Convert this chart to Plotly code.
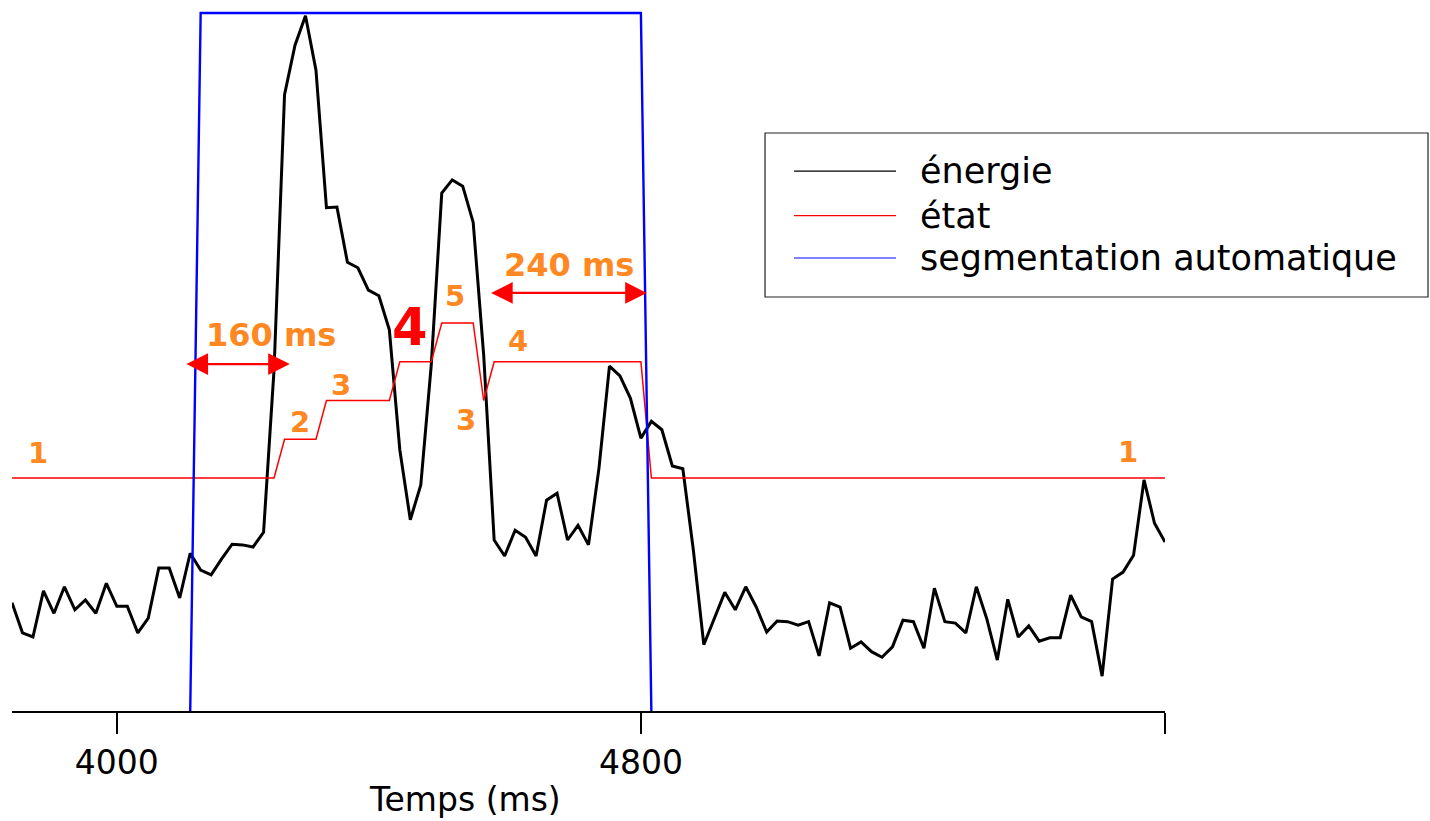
import plotly.graph_objects as go

# Frame times (ms): one analysis frame every 16 ms
frame_start = 3840
frame_step = 16

# Short-term energy per frame (arbitrary units)
energie = [
    15.5, 11.2, 10.6, 17.2, 14.0, 17.8, 14.5, 15.9, 14.0, 18.3,
    15.0, 15.0, 11.2, 13.3, 20.5, 20.5, 16.2, 22.6, 20.2, 19.5,
    21.8, 23.9, 23.8, 23.5, 25.6, 48.9, 88.3, 95.4, 99.6, 91.8,
    72.1, 72.2, 64.3, 63.5, 60.3, 59.5, 54.6, 37.4, 27.4, 32.4,
    49.6, 74.2, 76.1, 75.2, 70.0, 51.0, 24.5, 22.2, 25.9, 24.9,
    22.2, 30.2, 31.2, 24.5, 26.6, 23.8, 34.8, 49.4, 48.0, 44.8,
    39.1, 41.5, 40.3, 35.1, 34.7, 23.1, 9.5, 13.3, 17.0, 14.5,
    17.8, 14.9, 11.3, 12.9, 12.8, 12.3, 12.8, 7.9, 15.5, 14.9,
    9.0, 9.9, 8.5, 7.7, 9.2, 13.0, 12.8, 9.0, 17.6, 12.8,
    12.6, 11.2, 17.8, 13.2, 7.3, 16.0, 10.6, 12.2, 10.0, 10.5,
    10.5, 16.6, 13.5, 12.8, 5.0, 18.9, 19.9, 22.3, 33.1, 26.9,
    24.2,
]

# Decoded HMM state per frame
etat = (
    [1] * 26 + [2] * 4 + [3] * 7 + [4] * 4 + [5] * 4 + [3] * 1
    + [4] * 15 + [1] * 50
)

# Automatic segmentation (1 = inside the detected segment)
segmentation = [0] * 18 + [1] * 43 + [0] * 50

temps = [frame_start + frame_step * k for k in range(len(energie))]

# Tick marks of the time axis
tick_vals = [4000, 4800, 5600]
tick_text = ["4000", "4800", ""]

# State labels: (text, time ms, energy-scale height)
state_labels = [
    ("1", 3880, 37.0),
    ("2", 4280, 41.4),
    ("3", 4342, 46.7),
    ("5", 4516, 59.5),
    ("4", 4612, 53.0),
    ("3", 4533, 41.7),
    ("1", 5544, 37.1),
]
big_label = ("4", 4447, 55.0)

# Duration arrows: (duration ms, centre time ms, height)
durations = [160, 240]
duration_centres = [4184, 4689]
duration_heights = [49.7, 59.9]
duration_label_pos = [(4235, 53.9), (4690, 63.9)]

ORANGE = "#FF8822"
RED = "#FF0000"
BLUE = "#0000FF"
FONT = "DejaVu Sans"

fig = go.Figure()

fig.add_trace(go.Scatter(
    x=temps, y=etat, mode="lines", name="état", yaxis="y2",
    line=dict(color=RED, width=1.5), showlegend=False,
))
fig.add_trace(go.Scatter(
    x=temps, y=energie, mode="lines", name="énergie",
    line=dict(color="black", width=3), showlegend=False,
))
fig.add_trace(go.Scatter(
    x=temps, y=segmentation, mode="lines", name="segmentation automatique",
    yaxis="y3", line=dict(color=BLUE, width=2.4), showlegend=False,
))

annotations = []
for txt, t, h in state_labels:
    annotations.append(dict(
        x=t, y=h, xref="x", yref="y", text=txt, showarrow=False,
        font=dict(family=FONT, size=29, color=ORANGE, weight="bold"),
    ))
annotations.append(dict(
    x=big_label[1], y=big_label[2], xref="x", yref="y", text=big_label[0],
    showarrow=False, font=dict(family=FONT, size=51, color=RED, weight="bold"),
))

for d, c, h, (lx, ly) in zip(durations, duration_centres, duration_heights,
                             duration_label_pos):
    annotations.append(dict(
        x=c + d / 2, y=h, ax=c - d / 2, ay=h, xref="x", yref="y",
        axref="x", ayref="y", text="", showarrow=True,
        arrowhead=2, arrowside="end+start", arrowsize=1.8, arrowwidth=2.4,
        arrowcolor=RED, standoff=0, startstandoff=0,
    ))
    annotations.append(dict(
        x=lx, y=ly, xref="x", yref="y", text=f"{d} ms", showarrow=False,
        font=dict(family=FONT, size=32, color=ORANGE, weight="bold"),
    ))

# Axis title, placed under the left part of the axis
annotations.append(dict(
    x=0.393, y=-0.1266, xref="paper", yref="paper", text="Temps (ms)",
    xanchor="center", yanchor="middle", showarrow=False,
    font=dict(family=FONT, size=33, color="black"),
))

# Legend box with long line samples
legend_items = [
    ("énergie", "black", 0.7681),
    ("état", RED, 0.7048),
    ("segmentation automatique", BLUE, 0.6444),
]
shapes = [dict(
    type="rect", xref="paper", yref="paper",
    x0=0.6531, x1=1.2281, y0=0.5889, y1=0.8222,
    line=dict(color="#222222", width=1.2), fillcolor="white", layer="below",
)]
for name, col, yy in legend_items:
    shapes.append(dict(
        type="line", xref="paper", yref="paper",
        x0=0.6782, x1=0.7667, y0=yy, y1=yy, line=dict(color=col, width=1.2),
    ))
    annotations.append(dict(
        x=0.7858, y=yy, xref="paper", yref="paper", text=name,
        xanchor="left", yanchor="middle", showarrow=False,
        font=dict(family=FONT, size=35, color="black"),
    ))

fig.update_layout(
    width=1430, height=821, autosize=False,
    margin=dict(l=12, r=265, t=8, b=110),
    paper_bgcolor="white", plot_bgcolor="white",
    showlegend=False,
    xaxis=dict(
        range=[3840, 5600], showgrid=False, zeroline=False,
        showline=True, linecolor="black", linewidth=2,
        ticks="outside", ticklen=21, tickwidth=1.5, tickcolor="black",
        tickvals=tick_vals, ticktext=tick_text,
        tickfont=dict(family=FONT, size=33, color="black"),
        ticklabelstandoff=0, layer="above traces",
    ),
    yaxis=dict(range=[0, 100.72], visible=False),
    yaxis2=dict(range=[-5.013, 13.129], overlaying="y", visible=False),
    yaxis3=dict(range=[0.002857, 1.00714], overlaying="y", visible=False),
    annotations=annotations,
    shapes=shapes,
)

fig.write_html("out.html")
